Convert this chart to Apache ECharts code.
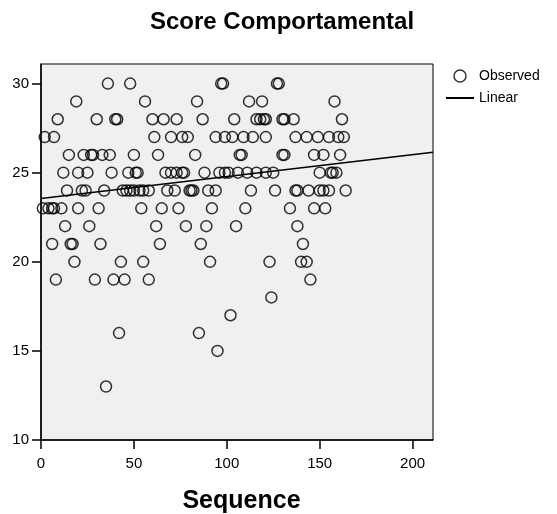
<!DOCTYPE html>
<html>
<head>
<meta charset="utf-8">
<script src="https://cdn.jsdelivr.net/npm/echarts@6/dist/echarts.min.js"></script>
<style>
  html, body { margin: 0; padding: 0; background: #fff; }
  #main { width: 557px; height: 514px; }
</style>
</head>
<body>
<div id="main"></div>
<script>
// observed scores, grouped by score value -> sequence numbers
const rowScores = [30, 29, 28, 27, 26, 25, 24, 23, 22, 21, 20, 19, 18, 17, 16, 15, 13];
const rowSeqs = [
  [36, 48, 97, 98, 127, 128],
  [19, 56, 84, 112, 119, 158],
  [9, 30, 40, 41, 60, 66, 73, 87, 104, 116, 118, 120, 121, 130, 131, 136, 162],
  [2, 7, 61, 70, 76, 79, 94, 99, 103, 109, 114, 121, 137, 143, 149, 155, 160, 163],
  [15, 23, 27, 28, 33, 37, 50, 63, 83, 107, 108, 130, 131, 147, 152, 161],
  [12, 20, 25, 38, 47, 51, 52, 67, 70, 73, 76, 77, 88, 96, 99, 101, 106, 111, 116, 121, 125, 150, 156, 157, 159],
  [14, 22, 24, 34, 44, 46, 48, 50, 53, 55, 58, 68, 72, 80, 81, 82, 90, 94, 113, 126, 137, 138, 144, 150, 152, 155, 164],
  [1, 4, 6, 7, 11, 20, 31, 54, 65, 74, 92, 110, 134, 147, 153],
  [13, 26, 62, 78, 89, 105, 138],
  [6, 16, 17, 32, 64, 86, 141],
  [18, 43, 55, 91, 123, 140, 143],
  [8, 29, 39, 45, 58, 145],
  [124],
  [102],
  [42, 85],
  [95],
  [35]
];
// linear fit end points
const fitX = [0, 211];
const fitY = [23.55, 26.15];

const xTicks = [0, 50, 100, 150, 200];
const yTicks = [10, 15, 20, 25, 30];

const observed = [];
rowScores.forEach(function (s, i) {
  rowSeqs[i].forEach(function (q) { observed.push([q, s]); });
});
const fitted = fitX.map(function (x, i) { return [x, fitY[i]]; });

const font = 'Liberation Sans, Arial, sans-serif';
const chart = echarts.init(document.getElementById('main'));
chart.setOption({
  animation: false,
  title: {
    text: 'Score Comportamental',
    left: 145,
    top: 5,
    textStyle: { fontFamily: font, fontSize: 24, fontWeight: 'bold', color: '#000' }
  },
  legend: {
    orient: 'vertical',
    left: 445,
    top: 69,
    padding: 0,
    itemWidth: 28,
    itemHeight: 12,
    itemGap: 8,
    textStyle: { fontFamily: font, fontSize: 14, color: '#000' },
    data: [
      { name: 'Observed', icon: 'circle', itemStyle: { color: 'transparent', borderColor: '#000', borderWidth: 1.5 } },
      { name: 'Linear', itemStyle: { opacity: 0 } }
    ]
  },
  grid: {
    left: 41, right: 124, top: 64, bottom: 74,
    outerBoundsMode: 'none',
    show: true,
    backgroundColor: '#f0f0f0',
    borderColor: '#000',
    borderWidth: 1
  },
  xAxis: {
    type: 'value',
    min: 0,
    max: 211,
    name: 'Sequence',
    nameLocation: 'middle',
    nameGap: 49,
    nameTextStyle: { fontFamily: font, fontSize: 25, fontWeight: 'bold', color: '#000', padding: [0, 0, 0, 9] },
    axisLine: { onZero: false, lineStyle: { color: '#000', width: 1.5 } },
    axisTick: { length: 9, lineStyle: { color: '#000', width: 1.5 }, customValues: xTicks },
    axisLabel: { margin: 16, fontFamily: font, fontSize: 15, color: '#000', customValues: xTicks },
    splitLine: { show: false }
  },
  yAxis: {
    type: 'value',
    min: 10,
    max: 31.1,
    axisLine: { onZero: false, lineStyle: { color: '#000', width: 1.5 } },
    axisTick: { length: 9, lineStyle: { color: '#000', width: 1.5 }, customValues: yTicks },
    axisLabel: { margin: 12, fontFamily: font, fontSize: 15, color: '#000', customValues: yTicks },
    splitLine: { show: false }
  },
  series: [
    {
      name: 'Observed',
      type: 'scatter',
      symbol: 'circle',
      symbolSize: 11,
      itemStyle: { color: 'transparent', borderColor: '#000', borderWidth: 1.5 },
      data: observed
    },
    {
      name: 'Linear',
      type: 'line',
      showSymbol: false,
      symbol: 'none',
      itemStyle: { color: '#000' },
      lineStyle: { color: '#000', width: 1.5 },
      data: fitted
    }
  ]
});
</script>
</body>
</html>
